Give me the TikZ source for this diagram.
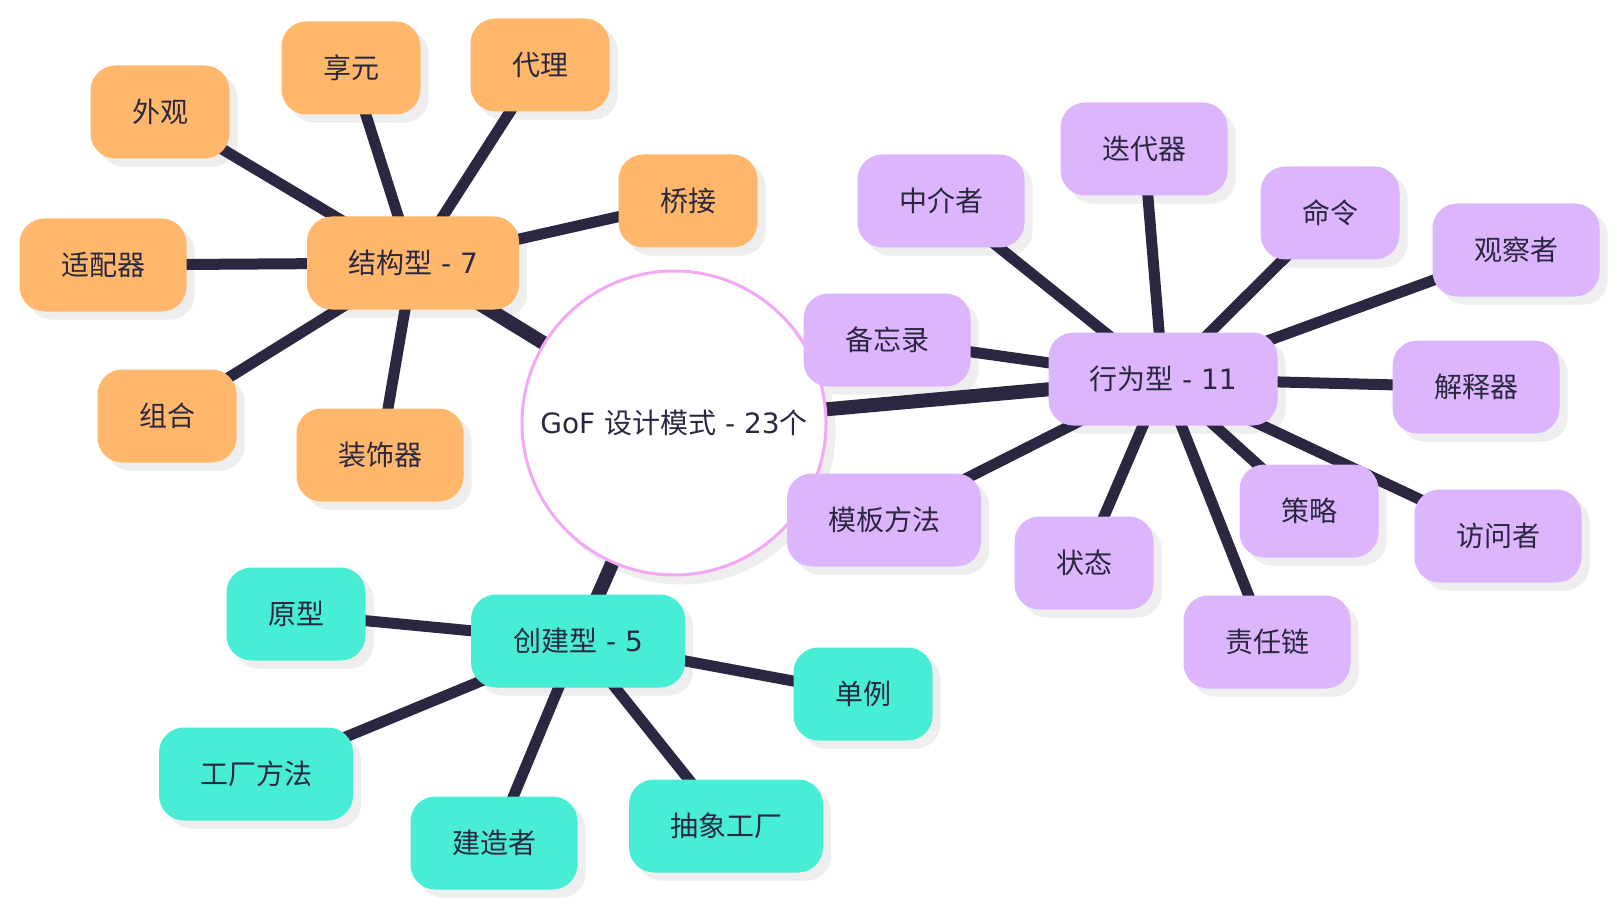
\documentclass[tikz,border=0pt]{standalone}
\usepackage{fontspec}
\setmainfont{Noto Sans CJK SC}
\newfontfamily\lat{DejaVu Sans}
\pgfdeclarelayer{bgl}
\pgfdeclarelayer{shadowl}
\pgfdeclarelayer{edgel}
\pgfsetlayers{bgl,shadowl,edgel,main}
\definecolor{orng}{HTML}{FFB86B}
\definecolor{purp}{HTML}{DCB5FD}
\definecolor{teal2}{HTML}{47EDD5}
\definecolor{ink}{HTML}{2B2740}
\definecolor{shd}{HTML}{EEEEEE}
\definecolor{pinkline}{HTML}{F2A8F5}
\tikzset{
  box/.style={rectangle, rounded corners=25pt, inner sep=0pt, minimum height=93pt,
    text=ink, font=\fontsize{28}{32}\selectfont},
  obox/.style={box, fill=orng},
  pbox/.style={box, fill=purp},
  tbox/.style={box, fill=teal2},
  wtwo/.style={minimum width=139pt},
  wthree/.style={minimum width=167pt},
  wfour/.style={minimum width=194pt},
  mainedge/.style={draw=ink, line width=14pt},
  leafedge/.style={draw=ink, line width=11pt},
}
\begin{document}
\begin{tikzpicture}[x=1pt,y=-1pt]
\begin{pgfonlayer}{bgl}
\fill[white] (0,0) rectangle (1619,909);
\end{pgfonlayer}
\useasboundingbox (0,0) rectangle (1619,909);
% centre
\node[circle, fill=white, draw=pinkline, line width=3pt, minimum size=304pt, inner sep=0pt,
  text=ink, font=\fontsize{28}{32}\selectfont] (root) at (674,423) {{\lat GoF }设计模式{\lat\ -\ 23}个};
% structural
\node[obox, minimum width=212pt] (jg) at (413,263) {结构型{\lat\ -\ 7}};
\node[obox, wtwo] (wg) at (160,112) {外观};
\node[obox, wtwo] (xy) at (351,68) {享元};
\node[obox, wtwo] (dl) at (540,65) {代理};
\node[obox, wtwo] (qj) at (688,201) {桥接};
\node[obox, wthree] (spq) at (103,265) {适配器};
\node[obox, wtwo] (zh) at (167,416) {组合};
\node[obox, wthree] (zsq) at (380,455) {装饰器};
% behavioural
\node[pbox, minimum width=229pt] (xw) at (1163,379) {行为型{\lat\ -\ 11}};
\node[pbox, wthree] (zjz) at (941,201) {中介者};
\node[pbox, wthree] (ddq) at (1144,149) {迭代器};
\node[pbox, wtwo] (ml) at (1330,213) {命令};
\node[pbox, wthree] (gcz) at (1516,250) {观察者};
\node[pbox, wthree] (jsq) at (1476,387) {解释器};
\node[pbox, wthree] (fwz) at (1498,536) {访问者};
\node[pbox, wtwo] (cl) at (1309,511) {策略};
\node[pbox, wthree] (zrl) at (1267,642) {责任链};
\node[pbox, wtwo] (zt) at (1084,563) {状态};
\node[pbox, wfour] (mbff) at (884,520) {模板方法};
\node[pbox, wthree] (bwl) at (887,340) {备忘录};
% creational
\node[tbox, minimum width=214pt] (cj) at (578,641) {创建型{\lat\ -\ 5}};
\node[tbox, wtwo] (yx) at (296,614) {原型};
\node[tbox, wtwo] (dli) at (863,694) {单例};
\node[tbox, wfour] (gcff) at (256,774) {工厂方法};
\node[tbox, wthree] (jzz) at (494,843) {建造者};
\node[tbox, wfour] (cxgc) at (726,826) {抽象工厂};
% shadows
\begin{pgfonlayer}{shadowl}
  \fill[shd] ([shift={(8,8)}]root.center) circle[radius=153.5pt];
  \foreach \n in {jg,wg,xy,dl,qj,spq,zh,zsq,xw,zjz,ddq,ml,gcz,jsq,fwz,cl,zrl,zt,mbff,bwl,cj,yx,dli,gcff,jzz,cxgc}{
    \fill[shd, rounded corners=25pt] ([shift={(8,8)}]\n.south west) rectangle ([shift={(8,8)}]\n.north east);
  }
\end{pgfonlayer}
% edges
\begin{pgfonlayer}{edgel}
  \draw[mainedge] (root.center) -- (jg.center);
  \draw[mainedge] (root.center) -- (xw.center);
  \draw[mainedge] (root.center) -- (cj.center);
  \foreach \n in {wg,xy,dl,qj,spq,zh,zsq}{\draw[leafedge] (jg.center) -- (\n.center);}
  \foreach \n in {zjz,ddq,ml,gcz,jsq,fwz,cl,zrl,zt,mbff,bwl}{\draw[leafedge] (xw.center) -- (\n.center);}
  \foreach \n in {yx,dli,gcff,jzz,cxgc}{\draw[leafedge] (cj.center) -- (\n.center);}
\end{pgfonlayer}
\end{tikzpicture}
\end{document}
